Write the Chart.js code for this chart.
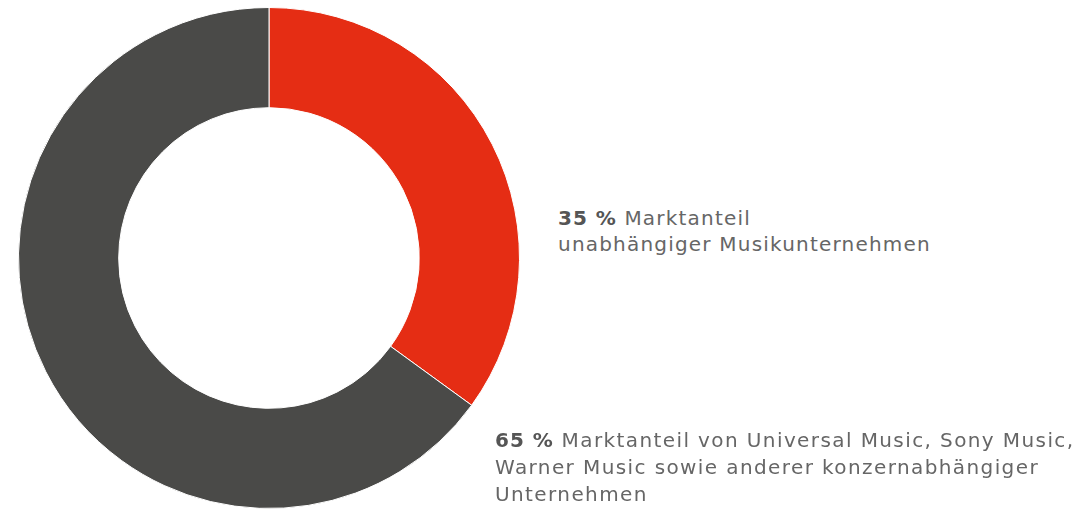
<!DOCTYPE html>
<html lang="de">
<head>
<meta charset="utf-8">
<script src="https://cdn.jsdelivr.net/npm/chart.js@4"></script>
<style>
    html, body { margin: 0; padding: 0; background: #fff; }
    body { width: 1084px; height: 509px; position: relative; overflow: hidden; font-family: 'DejaVu Sans', sans-serif; color: #666; }
    #chart-wrap { position: absolute; left: 18px; top: 7px; width: 502px; height: 502px; }
    .label { position: absolute; font-size: 20px; line-height: 26px; letter-spacing: 1.2px; white-space: nowrap; }
    .label b { color: #555; font-weight: bold; letter-spacing: 1px; }
    #label-indie { left: 558px; top: 205px; }
    #label-major { left: 495px; top: 427px; line-height: 27px; letter-spacing: 1.4px; }
</style>
</head>
<body>
<div id="chart-wrap"><canvas id="shareChart" width="502" height="502"></canvas></div>
<div class="label" id="label-indie"><b>35 %</b> Marktanteil<br>unabhängiger Musikunternehmen</div>
<div class="label" id="label-major"><b>65 %</b> Marktanteil von Universal Music, Sony Music,<br>Warner Music sowie anderer konzernabhängiger<br>Unternehmen</div>
<script>
// Marktanteile in Prozent
const segments = ['Unabhängige Musikunternehmen', 'Konzernabhängige Unternehmen'];
const shares = [35, 65];
const segmentColors = ['#e52d14', '#4a4a48'];

const ctx = document.getElementById('shareChart').getContext('2d');
new Chart(ctx, {
    type: 'doughnut',
    data: {
        labels: segments,
        datasets: [{
            data: shares,
            backgroundColor: segmentColors,
            borderColor: '#ffffff',
            borderWidth: 1
        }]
    },
    options: {
        responsive: false,
        animation: false,
        cutout: '60%',
        layout: { padding: 0 },
        plugins: {
            legend: { display: false },
            tooltip: { enabled: false }
        }
    }
});
</script>
</body>
</html>
